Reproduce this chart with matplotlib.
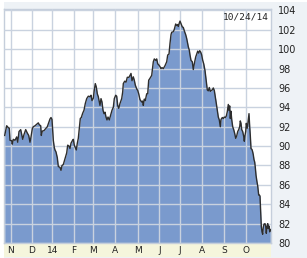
import numpy as np
import matplotlib
matplotlib.use("Agg")
import matplotlib.pyplot as plt
from matplotlib.patches import Rectangle

# trading-session index (0 = first session on chart) and closing price
session = [0.7, 2.7, 4.3, 5.3, 6.0, 7.7, 8.3, 9.3, 11.0, 12.7, 13.7, 15.0, 16.7, 17.7, 18.7,
           20.0, 21.7, 23.3, 24.7, 26.0, 27.0, 28.3, 29.3, 31.0, 32.7, 34.3, 35.3, 36.7, 37.3,
           38.3, 40.0, 41.7, 43.3, 45.0, 46.0, 47.0, 48.0, 48.7, 49.3, 50.3, 51.0, 52.0, 53.3,
           54.3, 56.0, 57.0, 58.0, 59.3, 61.0, 62.7, 63.7, 65.0, 66.0, 67.0, 68.3, 69.3, 70.3,
           71.3, 72.3, 73.3, 74.3, 75.3, 76.3, 77.3, 78.7, 80.0, 81.3, 82.7, 84.3, 86.0, 87.0,
           88.0, 89.3, 90.3, 91.3, 92.3, 93.3, 94.3, 95.3, 96.0, 97.0, 98.0, 99.0, 100.0, 101.0,
           102.0, 103.0, 104.0, 105.3, 107.0, 108.0, 109.3, 110.3, 111.7, 112.7, 113.7, 114.7,
           116.0, 117.7, 118.7, 119.3, 120.7, 122.0, 123.3, 125.0, 126.0, 127.0, 128.0, 129.3,
           130.3, 131.3, 132.7, 133.7, 134.7, 136.0, 137.7, 138.7, 139.3, 140.3, 141.3, 142.7,
           143.7, 144.7, 146.0, 147.7, 149.3, 150.3, 151.7, 152.7, 153.7, 155.0, 156.0, 157.0,
           158.0, 159.3, 161.0, 162.7, 163.7, 165.0, 166.0, 167.0, 167.7, 169.3, 170.3, 171.7,
           172.7, 173.7, 174.3, 175.3, 176.0, 177.0, 178.3, 179.3, 180.3, 181.7, 182.7, 183.7,
           184.3, 185.3, 186.0, 187.0, 188.3, 189.3, 190.3, 191.7, 192.7, 193.7, 194.7, 195.7,
           196.7, 197.7, 198.7, 199.7, 201.0, 202.0, 202.7, 203.3, 204.3, 205.3, 206.3, 207.3,
           208.3, 209.3, 210.3, 211.3, 212.3, 213.3, 214.3, 215.3, 216.3, 217.0, 218.3, 219.3,
           220.3, 221.3, 222.3, 223.3, 224.3, 225.0, 225.7, 226.3, 227.0, 227.7, 228.7, 229.7,
           230.7, 231.7, 232.7, 233.7, 234.7, 235.7, 236.3, 237.0, 237.7, 238.7, 239.7, 240.3,
           241.0, 241.7, 242.3, 243.3, 244.3, 245.0, 245.7, 246.3, 247.0, 248.0, 248.7, 249.3,
           250.0, 250.7, 251.3, 252.0, 253.0, 253.7, 254.7, 255.3, 256.0, 256.7, 257.3, 258.0,
           258.7, 259.3, 260.0, 261.0, 261.7, 262.3, 263.0, 263.7, 264.3, 265.0, 265.7, 266.3]
price = [91.1, 92.1, 91.9, 91.85, 90.6, 90.55, 90.2, 90.7, 90.6, 90.95, 90.4, 91.5, 91.7, 91.2, 90.7,
         91.2, 91.7, 91.35, 91.1, 90.4, 90.95, 91.8, 92.0, 92.1, 92.25, 92.4, 92.2, 92.1, 91.1,
         91.55, 91.6, 91.8, 92.0, 92.5, 92.8, 92.95, 92.75, 91.5, 90.6, 89.85, 89.6, 89.4, 88.8,
         87.9, 87.8, 87.5, 88.0, 88.1, 88.7, 89.3, 90.1, 90.0, 89.75, 90.3, 90.55, 90.7, 90.1,
         89.85, 89.6, 90.3, 90.8, 91.8, 92.85, 92.95, 93.4, 93.7, 94.4, 94.9, 95.15, 95.1, 95.25,
         94.7, 94.95, 95.8, 96.45, 96.1, 95.4, 95.1, 94.55, 94.2, 94.9, 94.55, 93.7, 93.35, 93.5,
         93.0, 92.7, 93.0, 92.7, 93.35, 93.7, 94.0, 94.9, 95.25, 95.15, 94.2, 93.9,
         94.4, 94.9, 95.6, 96.45, 96.7, 96.6, 97.1, 97.1, 97.3, 97.5, 96.75, 97.15,
         96.8, 96.3, 95.9, 95.75, 95.4, 94.8, 94.55, 94.65, 94.2, 94.85, 94.7, 95.4,
         95.4, 96.8, 97.0, 97.3, 98.7, 99.0, 98.85, 99.0, 98.5, 98.35, 98.2, 98.0,
         98.1, 98.0, 98.3, 98.7, 99.4, 99.5, 100.6, 101.5, 101.75, 101.8, 102.05, 102.6,
         102.45, 102.55, 102.35, 102.7, 102.9, 102.65, 102.3, 102.25, 101.9, 101.5, 101.1, 100.6,
         100.25, 99.9, 99.4, 98.85, 98.7, 97.9, 98.5, 99.2, 99.5, 99.8, 99.6, 99.85,
         99.7, 99.4, 98.85, 98.5, 97.8, 96.95, 96.3, 95.8, 95.7, 96.05, 95.65, 95.75,
         95.8, 96.0, 95.75, 95.1, 94.4, 93.7, 93.0, 92.7, 92.0, 92.75, 92.95, 92.85,
         93.0, 92.95, 93.1, 93.55, 94.3, 93.7, 94.15, 92.85, 93.6, 92.75, 92.0, 91.7,
         91.3, 90.8, 91.05, 91.5, 91.7, 92.0, 92.6, 92.35, 91.7, 91.5, 91.0, 90.5,
         91.1, 91.5, 92.35, 91.85, 92.7, 93.35, 92.0, 91.1, 89.75, 89.65, 89.4, 89.1,
         88.6, 88.35, 87.8, 87.0, 86.3, 85.9, 84.95, 84.95, 84.85, 83.1, 81.7, 81.15,
         80.9, 81.65, 81.95, 82.0, 81.75, 81.0, 81.65, 82.0, 81.5, 81.75, 81.15, 81.4]

month_pos = [7, 27.7, 48.3, 70, 89.3, 111, 133.7, 155.3, 176, 197.7, 220, 242]
month_lab = ["N", "D", "14", "F", "M", "A", "M", "J", "J", "A", "S", "O"]
y_ticks = [80, 82, 84, 86, 88, 90, 92, 94, 96, 98, 100, 102, 104]
date_label = "10/24/14"

W, H = 307, 258
fig = plt.figure(figsize=(W / 100, H / 100), dpi=100)
fig.patch.set_facecolor("white")

# light panel behind plot + price scale
fig.patches.append(Rectangle((4 / W, 0), 303 / W, 256 / H, transform=fig.transFigure,
                             facecolor="#eef2f6", edgecolor="none", zorder=-2))
# beige strip for month labels
fig.patches.append(Rectangle((4 / W, 1 / H), 267 / W, 14 / H, transform=fig.transFigure,
                             facecolor="#f5f5dc", edgecolor="none", zorder=-1))

ax = fig.add_axes([4 / W, 15 / H, 267 / W, 234 / H])
ax.set_facecolor("white")
ax.fill_between(session, price, 80, color="#7a9acd", lw=0, zorder=1)
ax.plot(session, price, color="#2d2d2d", lw=1.0, zorder=3)

ax.set_xlim(0, 267)
ax.set_ylim(80, 104.15)
ax.set_xticks(month_pos)
ax.set_xticklabels(month_lab)
ax.set_yticks(y_ticks)
ax.yaxis.tick_right()
ax.tick_params(axis="both", length=0, colors="#222222")
ax.tick_params(axis="x", labelsize=6.5, pad=2.5)
ax.tick_params(axis="y", labelsize=7, pad=5)
ax.set_axisbelow(False)
ax.grid(True, color="#c9d2df", lw=1.0, zorder=2)
for s in ax.spines.values():
    s.set_color("#c5cedb")
    s.set_linewidth(1)

ax.text(0.99, 0.985, date_label, transform=ax.transAxes, ha="right", va="top",
        fontsize=6.8, family="DejaVu Sans Mono", color="#222222")

fig.savefig("out.png", dpi=100)
